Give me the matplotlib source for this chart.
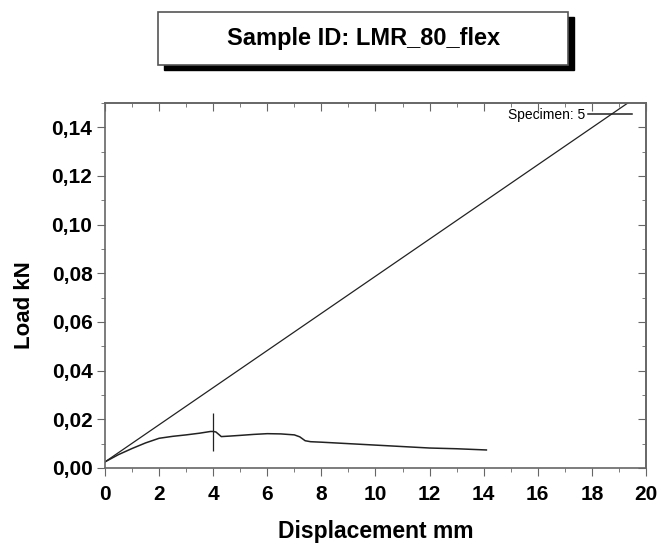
import matplotlib.pyplot as plt
from matplotlib.patches import Rectangle
from matplotlib.ticker import FuncFormatter, MultipleLocator

plt.rcParams['font.family'] = ['Liberation Sans', 'DejaVu Sans']

# straight reference line (ends at top of the axes)
line_x = [0.0, 19.33]
line_y = [0.0025, 0.15]

# specimen load curve
curve_x = [0.0, 0.5, 1.0, 1.5, 2.0, 2.5, 3.0, 3.5, 3.9, 4.0, 4.1, 4.3, 4.6, 5.0, 5.5, 6.0,
           6.5, 7.0, 7.2, 7.4, 7.6, 8.0, 9.0, 10.0, 11.0, 12.0, 13.0, 14.1]
curve_y = [0.0025, 0.0055, 0.0080, 0.0103, 0.0122, 0.0130, 0.0136, 0.0143, 0.0150, 0.0150,
           0.0148, 0.0129, 0.0131, 0.0134, 0.0138, 0.0141, 0.0140, 0.0136, 0.0128, 0.0112,
           0.0108, 0.0106, 0.0100, 0.0094, 0.0088, 0.0082, 0.0079, 0.0074]

# vertical marker at break
mark_x = 4.0
mark_lo, mark_hi = 0.0071, 0.0226

fig = plt.figure(figsize=(6.62, 5.46), dpi=100)
ax = fig.add_axes([0.1586, 0.1429, 0.8172, 0.6685])

ax.plot(line_x, line_y, color='#222222', lw=0.9)
ax.plot(curve_x, curve_y, color='#222222', lw=1.1, label='Specimen: 5')
ax.vlines(mark_x, mark_lo, mark_hi, color='#222222', lw=0.9)

ax.set_xlim(0, 20)
ax.set_ylim(0, 0.15)
ax.xaxis.set_major_locator(MultipleLocator(2))
ax.xaxis.set_minor_locator(MultipleLocator(1))
ax.yaxis.set_major_locator(MultipleLocator(0.02))
ax.yaxis.set_minor_locator(MultipleLocator(0.01))
ax.yaxis.set_major_formatter(FuncFormatter(lambda v, p: f"{v:.2f}".replace('.', ',')))

ax.tick_params(which='both', direction='out', top=False, right=False, color='#666666')
ax.tick_params(which='major', length=6, labelsize=15)
ax.tick_params(axis='x', which='major', pad=6)
ax.tick_params(axis='y', which='major', pad=3)
ax.tick_params(which='minor', length=3)
for lab in ax.get_xticklabels() + ax.get_yticklabels():
    lab.set_fontweight('bold')
# inward ticks on top/right
sec_x = ax.secondary_xaxis('top')
sec_x.xaxis.set_major_locator(MultipleLocator(2))
sec_x.xaxis.set_minor_locator(MultipleLocator(1))
sec_x.tick_params(which='both', direction='in', labeltop=False, color='#666666')
sec_x.tick_params(which='major', length=6)
sec_x.tick_params(which='minor', length=3)
sec_y = ax.secondary_yaxis('right')
sec_y.yaxis.set_major_locator(MultipleLocator(0.02))
sec_y.yaxis.set_minor_locator(MultipleLocator(0.01))
sec_y.tick_params(which='both', direction='in', labelright=False, color='#666666')
sec_y.tick_params(which='major', length=6)
sec_y.tick_params(which='minor', length=3)
for a in (ax, sec_x, sec_y):
    for s in a.spines.values():
        s.set_color('#666666')
        s.set_linewidth(1.2)

ax.set_xlabel('Displacement mm', fontsize=16.5, fontweight='bold', labelpad=12)
ax.set_ylabel('Load kN', fontsize=16, fontweight='bold')
ax.yaxis.set_label_coords(-0.13, 0.447)

leg = ax.legend(loc='center right', bbox_to_anchor=(0.975, 0.967), frameon=False,
                fontsize=10, markerfirst=False, handlelength=3.2, handletextpad=0.2,
                borderpad=0, borderaxespad=0)

# title box with drop shadow
fig.patches.append(Rectangle((164 / 662, 1 - 70 / 546), 410 / 662, 53 / 546,
                             transform=fig.transFigure, facecolor='black', edgecolor='black'))
fig.patches.append(Rectangle((158 / 662, 1 - 65 / 546), 410 / 662, 53 / 546,
                             transform=fig.transFigure, facecolor='white', edgecolor='#555555',
                             lw=1.2))
fig.text(364 / 662, 1 - 39 / 546, 'Sample ID: LMR_80_flex', ha='center', va='center',
         fontsize=17, fontweight='bold')

fig.savefig('out.png', dpi=100)
